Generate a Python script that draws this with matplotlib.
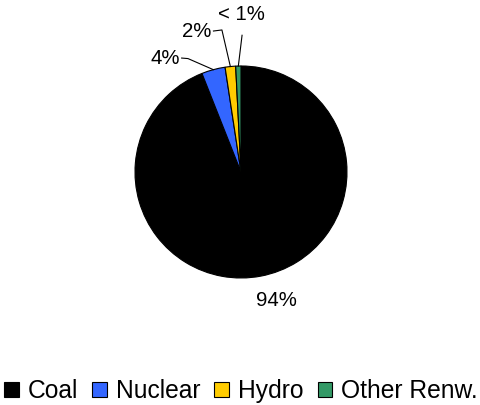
import numpy as np
import matplotlib.pyplot as plt

plt.rcParams['font.family'] = ['Liberation Sans', 'DejaVu Sans']

sources = ['Coal', 'Nuclear', 'Hydro', 'Other Renw.']
shares = [94.0, 3.6, 1.6, 0.8]
colors = ['#000000', '#3366FF', '#FFCC00', '#339966']


def pct_label(v):
    return '< 1%' if v < 1 else f'{v:.0f}%'


fig = plt.figure(figsize=(4.81, 4.05), dpi=100)
ax = fig.add_axes([0, 0, 1, 1])

wedges, _ = ax.pie(shares, colors=colors, startangle=90, counterclock=False,
                   radius=1.0, wedgeprops=dict(edgecolor='black', linewidth=0.8))

# pixel-like frame: pie centre at (241, 172) px, radius 106 px
ax.set_xlim(-241 / 106, (481 - 241) / 106)
ax.set_ylim((172 - 405) / 106, 172 / 106)
ax.set_aspect('auto')
ax.axis('off')

# label text position, elbow of the leader line (None = no leader)
label_pos = {
    'Coal': ((0.33, -1.21), 'center', None),
    'Nuclear': ((-0.58, 1.075), 'right', (-0.50, 1.07)),
    'Hydro': ((-0.28, 1.33), 'right', (-0.18, 1.34)),
    'Other Renw.': ((0.0, 1.49), 'center', (0.01, 1.29)),
}

for w, name, v in zip(wedges, sources, shares):
    (tx, ty), ha, elbow = label_pos[name]
    ax.text(tx, ty, pct_label(v), ha=ha, va='center', fontsize=14.7, color='black')
    if elbow is not None:
        mid = np.deg2rad((w.theta1 + w.theta2) / 2)
        ex, ey = np.cos(mid), np.sin(mid)
        if ha == 'right':
            xs = [tx + 0.02, elbow[0], ex]
            ys = [ty, elbow[1], ey]
        else:
            xs = [elbow[0], ex]
            ys = [elbow[1], ey]
        ax.plot(xs, ys, color='black', linewidth=0.8)

fig.legend(wedges, sources, loc='center', bbox_to_anchor=(0.501, 1 - 391 / 405),
           ncol=4, frameon=False, fontsize=17.7, handlelength=0.58, handleheight=0.58,
           handletextpad=0.37, columnspacing=0.58, borderaxespad=0, borderpad=0)

fig.savefig('out.png', dpi=100)
